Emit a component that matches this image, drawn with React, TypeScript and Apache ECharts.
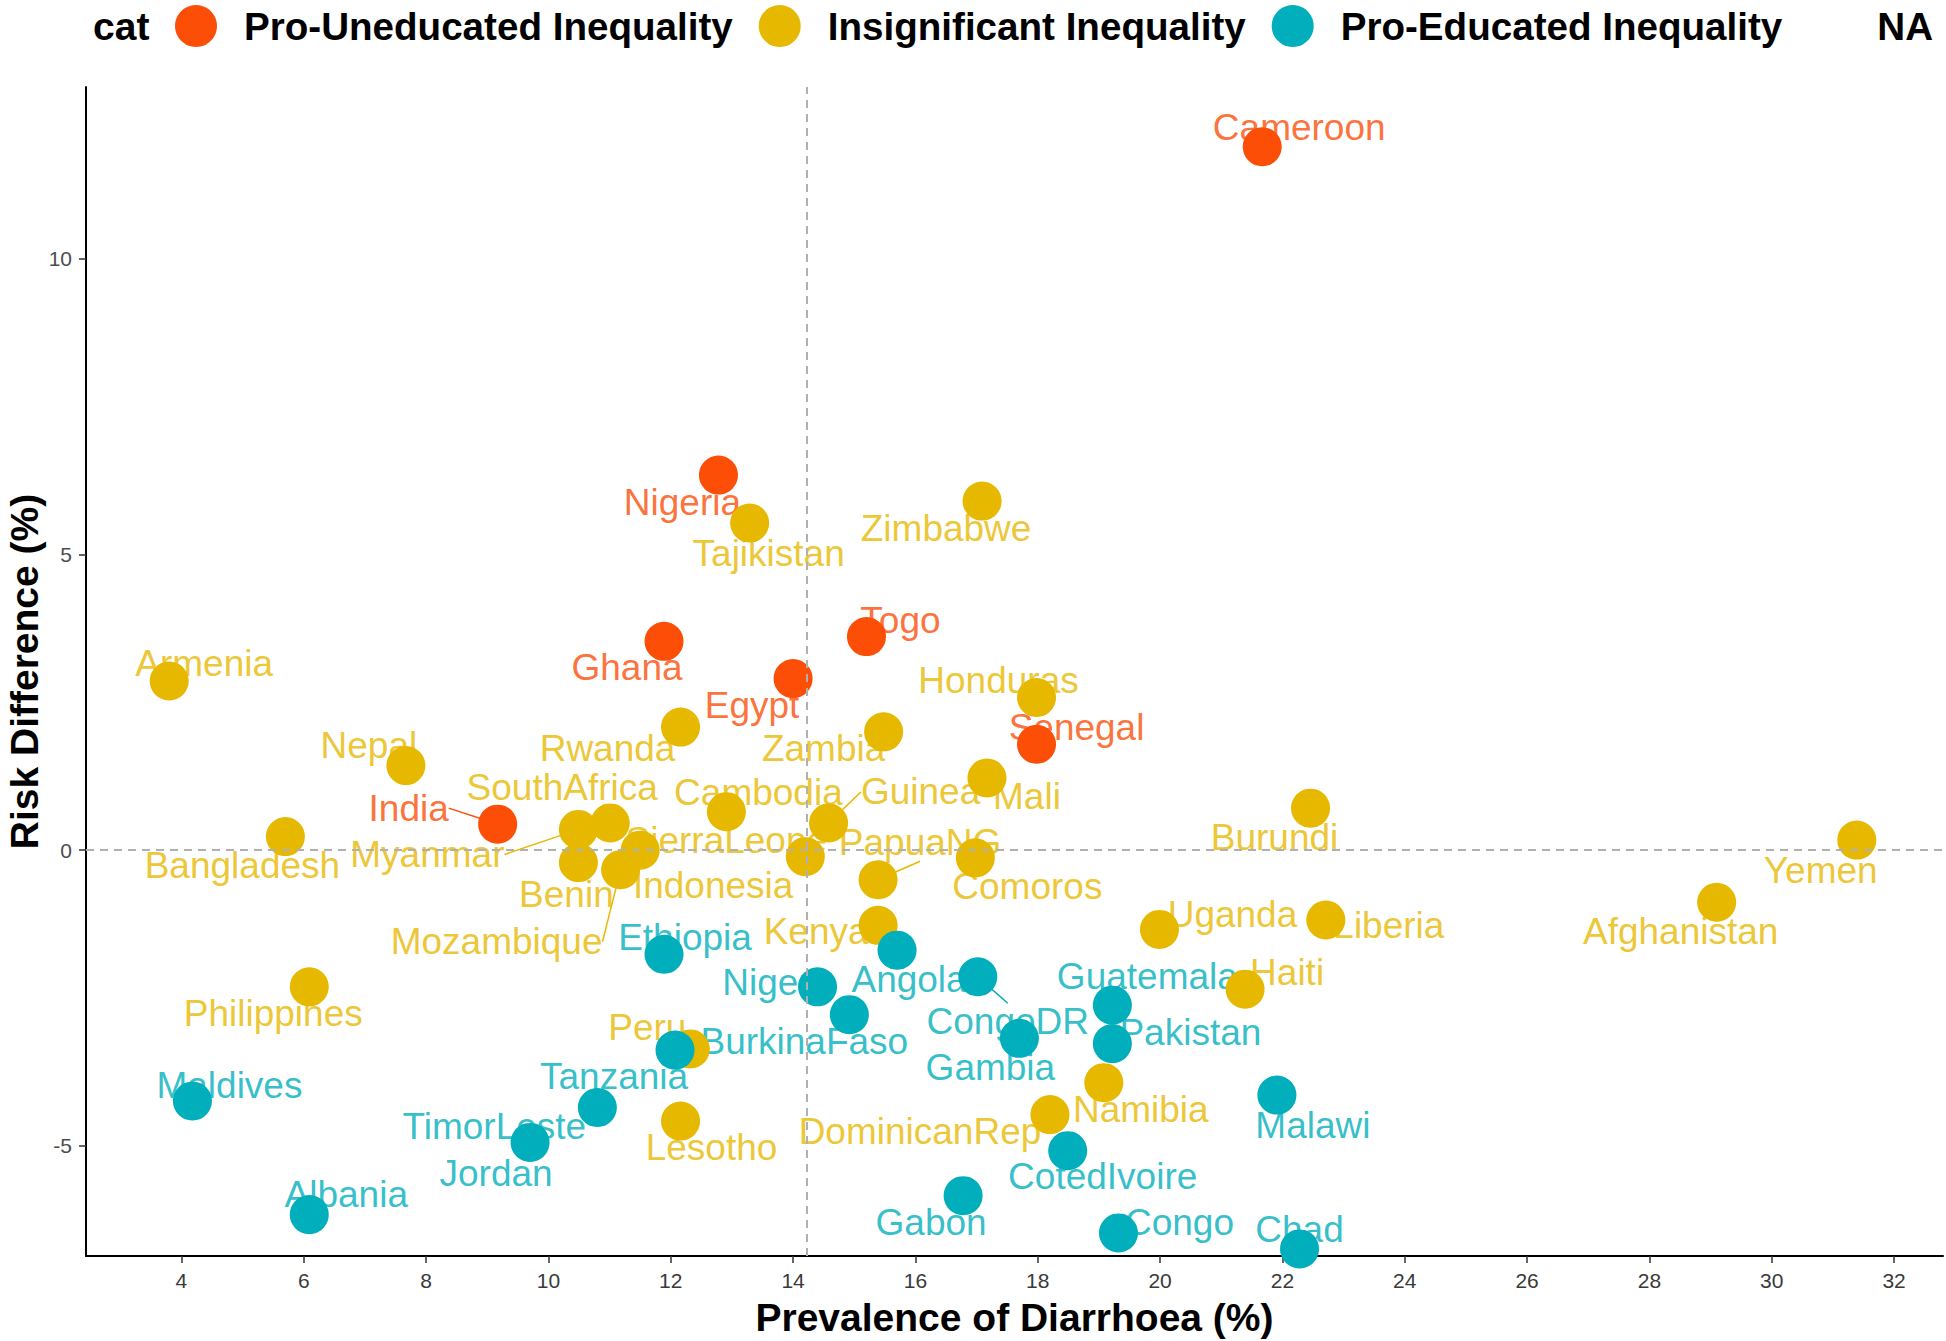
import React, { useEffect, useRef } from "react";
import * as echarts from "echarts";

// ---------------- data ----------------
const countries = [
  "Cameroon", "Nigeria", "Tajikistan", "Zimbabwe", "Togo", "Ghana", "Egypt", "Armenia",
  "Honduras", "Senegal", "Rwanda", "Zambia", "Nepal", "Mali", "Cambodia", "Guinea",
  "Burundi", "Yemen", "India", "Bangladesh", "SouthAfrica", "Myanmar", "SierraLeone", "Benin",
  "Indonesia", "Mozambique", "PapuaNG", "Comoros", "Kenya", "Afghanistan", "Uganda", "Liberia",
  "Ethiopia", "Angola", "Niger", "BurkinaFaso", "CongoDR", "Guatemala", "Haiti", "Pakistan",
  "Gambia", "Philippines", "Peru", "Tanzania", "Namibia", "DominicanRep", "Malawi", "Maldives",
  "Lesotho", "TimorLeste", "Jordan", "CotedIvoire", "Gabon", "Congo", "Chad", "Albania",
];
const prevalence = [
  21.67, 12.78, 13.29, 17.09, 15.2, 11.89, 14.0, 3.8,
  17.98, 17.98, 12.16, 15.48, 7.67, 17.17, 12.91, 14.58,
  22.46, 31.39, 9.17, 5.7, 11.01, 10.49, 14.2, 10.49,
  11.5, 11.18, 15.39, 16.98, 15.39, 29.1, 19.99, 22.71,
  11.89, 15.7, 14.4, 14.92, 17.02, 19.22, 21.39, 19.22,
  17.7, 6.09, 12.32, 12.07, 19.08, 18.2, 21.91, 4.18,
  12.16, 10.8, 9.7, 18.49, 16.78, 19.32, 22.28, 6.09,
];
const riskDifference = [
  11.89, 6.34, 5.53, 5.9, 3.61, 3.53, 2.9, 2.86,
  2.58, 1.79, 2.08, 2.0, 1.43, 1.22, 0.65, 0.46,
  0.71, 0.17, 0.44, 0.23, 0.46, 0.35, -0.11, -0.21,
  0.0, -0.33, -0.5, -0.13, -1.27, -0.88, -1.34, -1.18,
  -1.76, -1.69, -2.31, -2.78, -2.14, -2.62, -2.35, -3.27,
  -3.18, -2.31, -3.36, -3.38, -3.93, -4.47, -4.14, -4.24,
  -4.58, -4.35, -4.94, -5.08, -5.84, -6.47, -6.74, -6.16,
];
// U = Pro-Uneducated, I = Insignificant, E = Pro-Educated
const category = [
  "U", "U", "I", "I", "U", "U", "U", "I",
  "I", "U", "I", "I", "I", "I", "I", "I",
  "I", "I", "U", "I", "I", "I", "I", "I",
  "I", "I", "I", "I", "I", "I", "I", "I",
  "E", "E", "E", "E", "E", "E", "I", "E",
  "E", "I", "I", "E", "I", "I", "E", "E",
  "I", "E", "E", "E", "E", "E", "E", "E",
];
const categoryCodes = ["U", "I", "E"];
const legendNames = ["Pro-Uneducated Inequality", "Insignificant Inequality", "Pro-Educated Inequality", "NA"];
const xTicks = [4, 6, 8, 10, 12, 14, 16, 18, 20, 22, 24, 26, 28, 30, 32];
const yTicks = [-5, 0, 5, 10];
const meanPrevalence = 14.23;
const xTitle = "Prevalence of Diarrhoea (%)";
const yTitle = "Risk Difference (%)";
const legendTitle = "cat";

// ---------------- layout / style ----------------
const colors = ["#FC4E07", "#E7B800", "#00AFBB"];
const FONT = "'Liberation Sans', Arial, Helvetica, sans-serif";
const GRID = { left: 86, right: 3, top: 87, bottom: 85 };

// label nudges (px, label centre relative to point) mimicking the repelled labels
const labelNudge: Record<string, [number, number]> = {
  Cameroon: [37, -19], Nigeria: [-36, 27], Tajikistan: [19, 30], Zimbabwe: [-36, 27],
  Togo: [34, -16], Ghana: [-37, 26], Egypt: [-41, 27], Armenia: [35, -17],
  Honduras: [-38, -17], Senegal: [40, -17], Rwanda: [-73, 21], Zambia: [-60, 17],
  Nepal: [-37, -20], Mali: [40, 19], Cambodia: [32, -19], Guinea: [92, -31],
  Burundi: [-36, 29], Yemen: [-36, 30], India: [-89, -16], Bangladesh: [-43, 29],
  SouthAfrica: [-48, -35], Myanmar: [-151, 25], SierraLeone: [-79, -16], Benin: [-12, 32],
  Indonesia: [73, 35], Mozambique: [-124, 72], PapuaNG: [42, -37], Comoros: [52, 29],
  Kenya: [-62, 6], Afghanistan: [-36, 29], Uganda: [73, -15], Liberia: [63, 6],
  Ethiopia: [21, -17], Angola: [12, 29], Niger: [-51, -4], BurkinaFaso: [-45, 27],
  CongoDR: [30, 45], Guatemala: [35, -29], Haiti: [42, -17], Pakistan: [78, -11],
  Gambia: [-29, 29], Philippines: [-36, 27], Peru: [-43, -21], Tanzania: [-61, 26],
  Namibia: [37, 27], DominicanRep: [-130, 17], Malawi: [36, 30], Maldives: [37, -16],
  Lesotho: [31, 26], TimorLeste: [-103, 19], Jordan: [-34, 31], CotedIvoire: [35, 26],
  Gabon: [-32, 27], Congo: [61, -10], Chad: [0, -19], Albania: [37, -20],
};
const leaderLines = new Set(["India", "Myanmar", "Mozambique", "Guinea", "PapuaNG", "CongoDR"]);

function buildOption() {
  const series: any[] = [];
  categoryCodes.forEach((code, k) => {
    const idx = countries.map((_, i) => i).filter((i) => category[i] === code);
    const names = idx.map((i) => countries[i]);
    // labels (drawn below the points)
    series.push({
      type: "scatter",
      name: legendNames[k] + " labels",
      z: 2,
      symbolSize: 1,
      silent: true,
      itemStyle: { color: "rgba(0,0,0,0)" },
      label: {
        show: true,
        position: "inside",
        formatter: "{b}",
        color: colors[k],
        fontSize: 37,
        fontFamily: FONT,
      },
      labelLine: { show: false, lineStyle: { color: colors[k], width: 1.5 } },
      labelLayout: (p: any) => {
        const n = names[p.dataIndex];
        const d = labelNudge[n] || [0, 0];
        return { dx: d[0], dy: d[1] };
      },
      data: idx.map((i) => ({
        name: countries[i],
        value: [prevalence[i], riskDifference[i]],
        labelLine: { show: leaderLines.has(countries[i]) },
      })),
      markLine:
        k === 0
          ? {
              silent: true,
              symbol: "none",
              label: { show: false },
              lineStyle: { color: "#B0B0B0", type: [8, 6], width: 2 },
              data: [{ xAxis: meanPrevalence }, { yAxis: 0 }],
            }
          : undefined,
    });
  });
  categoryCodes.forEach((code, k) => {
    const idx = countries.map((_, i) => i).filter((i) => category[i] === code);
    series.push({
      type: "scatter",
      name: legendNames[k],
      z: 3,
      symbolSize: 39,
      itemStyle: { color: colors[k], opacity: 1 },
      data: idx.map((i) => ({ name: countries[i], value: [prevalence[i], riskDifference[i]] })),
    });
  });
  series.push({
    type: "scatter",
    name: "NA",
    z: 3,
    symbolSize: 39,
    itemStyle: { color: "rgba(0,0,0,0)" },
    data: [],
  });

  const plotMidY = GRID.top + (1341 - GRID.top - GRID.bottom) / 2;

  return {
    animation: false,
    backgroundColor: "#ffffff",
    textStyle: { fontFamily: FONT },
    title: {
      text: legendTitle,
      left: 93,
      top: 7,
      padding: 0,
      textStyle: { fontSize: 39, fontWeight: "bold", color: "#000", fontFamily: FONT },
    },
    graphic: [
      {
        type: "text",
        x: 24,
        y: plotMidY,
        rotation: Math.PI / 2,
        silent: true,
        style: {
          text: yTitle,
          fill: "#000",
          font: `bold 39px ${FONT}`,
          lineHeight: 39,
          align: "center",
          verticalAlign: "middle",
        },
      },
    ],
    legend: {
      data: legendNames,
      left: 175,
      top: 5,
      width: 1771,
      padding: 0,
      itemWidth: 42,
      itemHeight: 42,
      itemGap: 26,
      icon: "circle",
      selectedMode: false,
      textStyle: {
        fontSize: 38.6,
        fontWeight: "bold",
        color: "#000",
        fontFamily: FONT,
        padding: [0, 0, 0, 22],
      },
    },
    grid: { ...GRID, containLabel: false, outerBoundsMode: "none" },
    xAxis: {
      type: "value",
      min: 2.44,
      max: 32.8,
      name: xTitle,
      nameLocation: "middle",
      nameGap: 42,
      nameTextStyle: { fontSize: 39, fontWeight: "bold", color: "#000", fontFamily: FONT },
      axisLine: { show: true, onZero: false, lineStyle: { color: "#000", width: 2 } },
      axisTick: { show: true, length: 7, customValues: xTicks, lineStyle: { color: "#333", width: 1.5 } },
      axisLabel: { customValues: xTicks, fontSize: 21, color: "#3A3A3A", margin: 14, fontFamily: FONT },
      splitLine: { show: false },
    },
    yAxis: {
      type: "value",
      min: -6.86,
      max: 12.9,
      axisLine: { show: true, onZero: false, lineStyle: { color: "#000", width: 2 } },
      axisTick: { show: true, length: 7, customValues: yTicks, lineStyle: { color: "#333", width: 1.5 } },
      axisLabel: { customValues: yTicks, fontSize: 21, color: "#4D4D4D", margin: 14, fontFamily: FONT },
      splitLine: { show: false },
    },
    series,
  };
}

export default function App() {
  const ref = useRef<HTMLDivElement>(null);
  useEffect(() => {
    if (!ref.current) return;
    const chart = echarts.init(ref.current, undefined, { renderer: "svg" });
    chart.setOption(buildOption() as any);
    return () => chart.dispose();
  }, []);
  return (
    <div
      ref={ref}
      style={{ position: "absolute", left: 0, top: 0, width: 1946, height: 1341, background: "#fff" }}
    />
  );
}
